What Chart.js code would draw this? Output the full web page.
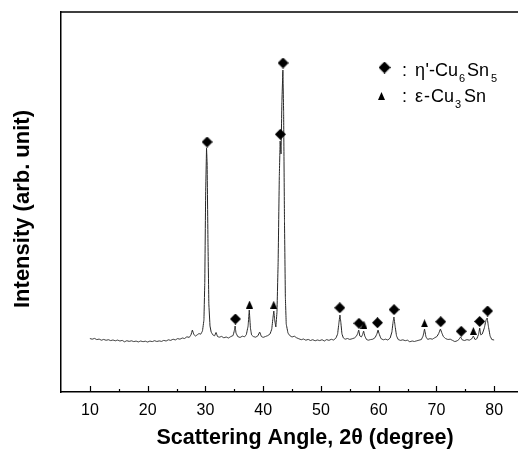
<!DOCTYPE html>
<html>
<head>
<meta charset="utf-8">
<script src="https://cdn.jsdelivr.net/npm/chart.js@4.4.1/dist/chart.umd.min.js"></script>
<style>
html,body{margin:0;padding:0;background:#fff;overflow:hidden;}
#wrap{position:relative;width:532px;height:457px;}
</style>
</head>
<body>
<div id="wrap"><canvas id="xrd"></canvas></div>
<script>
/* ── Datos: patrón XRD (2θ en grados, intensidad arb.) ── */
var angles = [
  10.0,10.4,10.8,11.2,11.6,12.0,12.4,12.8,13.2,13.6,14.0,14.4,14.8,15.2,15.6,16.0,16.4,16.8,17.2,17.6,
  18.0,18.4,18.8,19.2,19.6,20.0,20.4,20.8,21.2,21.6,22.0,22.4,22.8,23.2,23.6,24.0,24.4,24.8,25.2,25.6,
  26.0,26.4,26.8,27.2,27.5,27.75,28.0,28.3,28.6,28.9,29.2,29.5,29.75,29.9,30.05,30.2,30.3,30.45,30.6,30.8,
  31.0,31.3,31.6,31.85,32.1,32.4,32.8,33.2,33.6,34.0,34.4,34.8,35.0,35.15,35.3,35.6,36.0,36.4,36.8,37.1,
  37.4,37.6,37.8,38.0,38.3,38.7,39.1,39.4,39.7,40.0,40.4,40.8,41.2,41.5,41.7,41.85,42.0,42.2,42.4,42.6,
  42.8,42.95,43.1,43.25,43.42,43.55,43.7,43.85,44.0,44.3,44.6,45.0,45.4,45.8,46.2,46.6,47.0,47.4,47.8,48.2,
  48.6,49.0,49.4,49.8,50.2,50.6,51.0,51.4,51.8,52.2,52.6,52.9,53.1,53.3,53.45,53.65,53.9,54.2,54.6,55.0,
  55.4,55.8,56.1,56.35,56.55,56.75,57.0,57.2,57.4,57.6,57.9,58.2,58.6,59.0,59.4,59.7,59.9,60.1,60.4,60.8,
  61.2,61.6,62.0,62.3,62.5,62.65,62.85,63.1,63.4,63.8,64.2,64.6,65.0,65.4,65.8,66.2,66.6,67.0,67.4,67.7,
  67.95,68.2,68.5,68.9,69.3,69.7,70.1,70.4,70.7,70.95,71.2,71.6,72.0,72.4,72.8,73.2,73.6,73.9,74.2,74.5,
  74.9,75.3,75.7,76.1,76.4,76.7,77.0,77.3,77.5,77.7,77.95,78.3,78.6,78.8,79.0,79.3,79.6,80.0
];
var intensity = [
  53.5,52.8,53.6,52.4,52.9,51.8,52.6,51.7,52.3,51.4,52.0,51.2,51.9,51.0,51.6,50.2,51.3,50.6,51.2,50.4,
  50.9,50.1,51.0,50.3,50.8,50.0,50.9,50.4,51.3,50.5,51.1,50.6,51.6,51.0,52.2,51.6,52.8,52.1,53.4,52.8,
  54.0,53.5,55.2,54.6,57.0,62.0,57.5,56.0,57.2,58.5,57.8,61,72,110,200,244,230,150,88,66,
  60,57,56.2,59.5,55.5,54.8,55.6,54.2,55.0,54.0,55.4,56.5,61,66,59,55.5,54.5,55.8,55.2,57.5,
  66,82,64,57,55.5,54.8,56.2,60,55.5,54.6,55.5,56.4,58,63,74,81,72,65,80,130,
  215,251,238,290,322,280,170,95,68,59,56.5,55.0,55.8,54.2,53.2,52.3,53.0,51.8,52.6,51.5,
  52.3,51.2,52.0,51.4,52.3,51.0,52.4,51.6,52.7,52.0,53.8,58,68,77,70,58,54,52.8,53.5,52.6,
  53.2,54.0,55.5,58,62,56,55,57,61,56,52.5,51.8,52.4,52.8,54.5,58,62,58,53.5,52.2,
  52.8,52.0,54.0,60,70,75,66,56,52.4,51.6,52.2,51.3,51.8,50.2,51.0,50.5,51.2,51.8,52.5,56,
  63,55,52.6,53.4,52.8,54.2,55.5,58.5,63,59,55.5,53.4,52.5,52.8,51.6,50.4,51.2,52.5,55,52,
  51.5,52.4,51.8,53.0,56,52.4,53.2,57.5,64,57,58,64,72,74,66,56,52.5,52.0
];

/* marcadores de fase */
var etaAngles   = [30.3, 35.2, 42.98, 43.45, 53.27, 56.6, 59.8, 62.67, 70.75, 74.3, 77.5, 78.87];
var etaHeights  = [250, 73, 257.7, 329, 84.2, 68.7, 69.3, 82.4, 70.3, 60.7, 70.5, 81];
var epsAngles   = [37.65, 41.83, 57.45, 67.95, 76.4];
var epsHeights  = [87.5, 87.3, 67.3, 68.7, 61];

var majorTicks = [10, 20, 30, 40, 50, 60, 70, 80];
var minorTicks = [15, 25, 35, 45, 55, 65, 75];

/* ── formas de punto ── */
function diamond(w, h) {
    var c = document.createElement('canvas'); c.width = w; c.height = h;
    var g = c.getContext('2d'); g.fillStyle = '#000';
    g.beginPath(); g.moveTo(w/2,0); g.lineTo(w,h/2); g.lineTo(w/2,h); g.lineTo(0,h/2); g.closePath(); g.fill();
    return c;
}
function triangle(w, h) {
    var c = document.createElement('canvas'); c.width = w; c.height = h;
    var g = c.getContext('2d'); g.fillStyle = '#000';
    g.beginPath(); g.moveTo(w/2,0); g.lineTo(w,h); g.lineTo(0,h); g.closePath(); g.fill();
    return c;
}
var DIA = diamond(11, 11), TRI = triangle(7, 8);

function pts(xs, ys){ return xs.map(function(x,i){ return {x:x, y:ys[i]}; }); }

var FONT = '"Liberation Sans", Arial, Helvetica, sans-serif';

/* ── marco, ticks interiores, títulos y leyenda ── */
var decor = {
    id: 'decor',
    afterDraw: function (chart) {
        var g = chart.ctx, a = chart.chartArea, xs = chart.scales.x;
        g.save();
        g.strokeStyle = '#000';
        g.lineWidth = 1.5;
        g.beginPath();
        g.moveTo(a.left, a.top); g.lineTo(a.right, a.top); g.lineTo(a.right, a.bottom);
        g.stroke();
        g.lineWidth = 1.2;
        majorTicks.forEach(function (v) {
            var x = Math.round(xs.getPixelForValue(v)) + 0.5;
            g.beginPath(); g.moveTo(x, a.bottom); g.lineTo(x, a.bottom - 6); g.stroke();
        });
        minorTicks.forEach(function (v) {
            var x = Math.round(xs.getPixelForValue(v)) + 0.5;
            g.beginPath(); g.moveTo(x, a.bottom); g.lineTo(x, a.bottom - 3); g.stroke();
        });

        g.fillStyle = '#000';
        g.textAlign = 'center'; g.textBaseline = 'alphabetic';
        g.font = 'bold 21.5px ' + FONT;
        g.fillText('Scattering Angle, 2\u03b8 (degree)', 305, 444);

        g.save();
        g.translate(23, 209); g.rotate(-Math.PI / 2);
        g.textBaseline = 'middle';
        g.font = 'bold 22px ' + FONT;
        g.fillText('Intensity (arb. unit)', 0, 0);
        g.restore();

        /* leyenda */
        g.drawImage(DIA, 378.5, 61.5, 12, 12);
        g.drawImage(TRI, 378, 92, 7, 8);
        g.textAlign = 'left';
        function put(items, y) {
            items.forEach(function (p) {
                g.font = (p.sub ? '11px ' : '18px ') + FONT;
                g.fillText(p.t, p.x, y + (p.sub ? 6 : 0));
            });
        }
        put([{t:':',x:402},{t:'\u03b7',x:415},{t:'\'',x:425.5},{t:'-',x:429},{t:'Cu',x:435},
             {t:'6',x:459,sub:true},{t:'Sn',x:467},{t:'5',x:491,sub:true}], 76);
        put([{t:':',x:402},{t:'\u03b5',x:415},{t:'-',x:424},{t:'Cu',x:431},
             {t:'3',x:455,sub:true},{t:'Sn',x:464}], 102);
        g.restore();
    }
};

new Chart(document.getElementById('xrd'), {
    type: 'line',
    data: {
        datasets: [
            { type:'scatter', data: pts(etaAngles, etaHeights), pointStyle: DIA, pointRadius: 6, order: 0 },
            { type:'scatter', data: pts(epsAngles, epsHeights), pointStyle: TRI, pointRadius: 4, order: 0 },
            { data: pts(angles, intensity), borderColor: '#262626', borderWidth: 1,
              pointRadius: 0, tension: 0.001, fill: false, order: 1 }
        ]
    },
    options: {
        responsive: true,
        maintainAspectRatio: false,
        animation: false,
        events: [],
        layout: { padding: { top: 12, right: 0, left: 0, bottom: 0 } },
        plugins: { legend: { display: false }, tooltip: { enabled: false } },
        scales: {
            x: {
                type: 'linear', min: 5, max: 85,
                grid: { display: false, drawTicks: false },
                border: { display: true, color: '#000', width: 1.5 },
                ticks: {
                    stepSize: 5, autoSkip: false, maxRotation: 0, padding: 9,
                    color: '#000', font: { family: FONT, size: 16 },
                    callback: function (v) { return majorTicks.indexOf(v) >= 0 ? String(v) : ''; }
                },
                afterFit: function (s) { s.height = 65; }
            },
            y: {
                min: 0, max: 380,
                grid: { display: false, drawTicks: false },
                border: { display: true, color: '#000', width: 1.5 },
                ticks: { display: false },
                afterFit: function (s) { s.width = 61; }
            }
        }
    },
    plugins: [decor]
});
</script>
</body>
</html>
